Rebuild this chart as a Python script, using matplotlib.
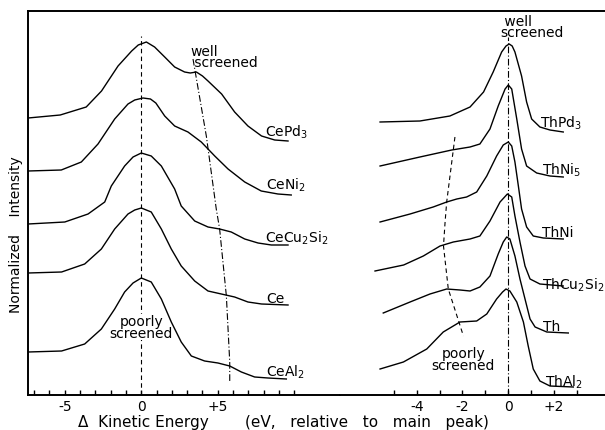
import matplotlib
matplotlib.use("Agg")
import matplotlib.pyplot as plt
from matplotlib.ticker import FixedLocator, FixedFormatter

plt.rcParams['font.family'] = ['DejaVu Sans']
plt.rcParams['mathtext.default'] = 'regular'

# ---------------- Ce compounds (left panel) ----------------
# energy in eV relative to main peak, normalized intensity (offset, a.u.)
cepd3_e = [-7.4, -5.3, -3.6, -2.6, -1.52, -0.63, -0.2, 0.33, 0.87, 1.53, 2.18, 2.83, 3.2, 3.6, 4.0, 4.36, 5.25, 6.1, 6.97, 7.86, 8.72, 9.59]
cepd3_i = [277, 280, 288, 304, 329, 344, 350, 353, 348, 338, 328, 323, 322, 323, 319, 314, 301, 283, 269, 259, 255, 254]

ceni2_e = [-7.4, -5.23, -3.92, -2.83, -1.74, -0.87, -0.43, 0.11, 0.6, 0.95, 1.53, 2.18, 3.05, 3.92, 4.8, 5.67, 6.76, 7.84, 8.93, 9.8]
ceni2_i = [224, 225, 233, 251, 276, 291, 295, 297, 296, 292, 279, 269, 263, 253, 239, 226, 213, 204, 201, 200]

cecu2si2_e = [-7.4, -5.0, -3.48, -2.39, -1.96, -1.09, -0.54, 0.0, 0.65, 1.31, 2.18, 2.61, 3.49, 4.36, 5.12, 5.88, 6.76, 7.63, 8.5, 9.59]
cecu2si2_i = [171, 173, 181, 193, 209, 229, 238, 242, 239, 229, 206, 189, 174, 168, 166, 163, 156, 152, 150, 150]

ce_e = [-7.4, -5.21, -3.7, -2.61, -1.74, -0.87, -0.43, 0.0, 0.65, 1.31, 1.96, 2.61, 3.49, 4.36, 5.23, 6.1, 6.97, 7.86, 9.59]
ce_i = [122, 123, 131, 146, 166, 181, 185, 187, 183, 166, 146, 129, 114, 104, 101, 98, 93, 91, 90]

ceal2_e = [-7.4, -5.21, -3.7, -2.61, -1.74, -1.09, -0.54, 0.0, 0.65, 1.31, 1.96, 2.61, 3.27, 4.14, 5.01, 5.78, 6.54, 7.41, 8.28, 9.48]
ceal2_i = [43, 44, 51, 66, 86, 103, 112, 117, 113, 96, 73, 53, 39, 34, 32, 29, 23, 18, 17, 16]

# "well screened" guide (Ce)
ce_well_e = [3.38, 4.25, 4.9, 5.12, 5.56, 5.78, 5.78]
ce_well_i = [336, 259, 186, 166, 99, 33, 14]

# ---------------- Th compounds (right panel) ----------------
thpd3_e = [-5.6, -3.86, -2.55, -1.67, -1.08, -0.66, -0.29, -0.1, 0.04, 0.17, 0.29, 0.58, 0.8, 1.02, 1.38, 1.82, 2.4]
thpd3_i = [273, 274, 279, 288, 303, 323, 343, 349, 351, 349, 343, 319, 293, 276, 268, 265, 263]

thni5_e = [-5.6, -3.86, -2.47, -1.67, -1.24, -0.8, -0.44, -0.14, 0.0, 0.15, 0.37, 0.58, 0.8, 1.24, 1.82, 2.4]
thni5_i = [229, 238, 245, 248, 251, 266, 289, 306, 310, 306, 276, 246, 229, 222, 219, 218]

thni_e = [-5.6, -4.29, -3.28, -2.69, -2.25, -1.82, -1.38, -0.94, -0.51, -0.22, 0.0, 0.15, 0.29, 0.44, 0.58, 0.8, 1.09, 1.53, 2.4]
thni_i = [173, 181, 188, 193, 196, 198, 203, 219, 239, 250, 253, 249, 233, 209, 186, 168, 159, 157, 156]

thcu2si2_e = [-5.82, -4.57, -3.71, -2.98, -2.4, -1.67, -1.24, -0.8, -0.36, -0.04, 0.15, 0.29, 0.51, 0.73, 0.95, 1.38, 2.4]
thcu2si2_i = [124, 130, 139, 149, 153, 156, 159, 174, 193, 201, 198, 179, 153, 129, 116, 111, 109]

th_e = [-5.46, -4.29, -3.42, -2.69, -2.11, -1.67, -1.24, -0.8, -0.44, -0.22, -0.07, 0.07, 0.29, 0.51, 0.73, 0.95, 1.17, 1.68, 2.62]
th_i = [82, 93, 101, 106, 105, 104, 108, 119, 141, 153, 158, 156, 139, 116, 96, 76, 68, 63, 62]

thal2_e = [-5.6, -4.58, -3.56, -2.84, -2.11, -1.38, -0.94, -0.51, -0.25, -0.1, 0.07, 0.37, 0.66, 0.87, 1.09, 1.38, 1.82, 2.84]
thal2_i = [26, 33, 46, 63, 73, 74, 81, 96, 103, 106, 104, 93, 73, 49, 26, 14, 9, 8]

# "poorly screened" guide (Th)
th_poor_e = [-2.33, -2.69, -2.76, -2.83, -2.62, -1.96]
th_poor_i = [258, 193, 173, 149, 106, 59]

left_ticks = [-5, 0, 5]
left_ticklabels = ['-5', '0', '+5']
left_minor = [-7, -6, -4, -3, -2, -1, 1, 2, 3, 4, 6, 7, 8, 9, 10]
right_ticks = [-4, -2, 0, 2]
right_ticklabels = ['-4', '-2', '0', '+2']
right_minor = [-5, -3, -1, 1, 3]

ce_names = ['CePd$_3$', 'CeNi$_2$', 'CeCu$_2$Si$_2$', 'Ce', 'CeAl$_2$']
th_names = ['ThPd$_3$', 'ThNi$_5$', 'ThNi', 'ThCu$_2$Si$_2$', 'Th', 'ThAl$_2$']

# ---------------- figure ----------------
fig = plt.figure(figsize=(6.05, 4.31), dpi=100)
axL = fig.add_axes([28 / 605, 35 / 431, 312 / 605, 384 / 431])
axR = fig.add_axes([340 / 605, 35 / 431, 265 / 605, 384 / 431])

axL.set_xlim(-7.405, 12.987)
axR.set_xlim(-7.349, 4.223)
for ax in (axL, axR):
    ax.set_ylim(0, 384)
    ax.set_yticks([])
    ax.spines['right'].set_visible(False)
    for s in ('top', 'bottom', 'left'):
        ax.spines[s].set_linewidth(1.4)
    ax.tick_params(axis='x', which='both', direction='in', length=3.5, width=1.0,
                   pad=3, labelsize=10, top=False)
axR.spines['left'].set_visible(False)

axL.xaxis.set_major_locator(FixedLocator(left_ticks))
axL.xaxis.set_major_formatter(FixedFormatter(left_ticklabels))
axL.xaxis.set_minor_locator(FixedLocator(left_minor))
axR.xaxis.set_major_locator(FixedLocator(right_ticks))
axR.xaxis.set_major_formatter(FixedFormatter(right_ticklabels))
axR.xaxis.set_minor_locator(FixedLocator(right_minor))

lw = 1.0
ce_curves = [(cepd3_e, cepd3_i), (ceni2_e, ceni2_i), (cecu2si2_e, cecu2si2_i),
             (ce_e, ce_i), (ceal2_e, ceal2_i)]
th_curves = [(thpd3_e, thpd3_i), (thni5_e, thni5_i), (thni_e, thni_i),
             (thcu2si2_e, thcu2si2_i), (th_e, th_i), (thal2_e, thal2_i)]
for e, i in ce_curves:
    axL.plot(e, i, color='black', lw=lw, solid_joinstyle='round', zorder=2)
for e, i in th_curves:
    axR.plot(e, i, color='black', lw=lw, solid_joinstyle='round', zorder=2)

# guide lines
axL.axvline(0, ymin=0, ymax=359 / 384, color='black', lw=0.8, ls=(0, (4, 3)), zorder=1)
axL.plot(ce_well_e, ce_well_i, color='black', lw=0.8, ls=(0, (6, 2, 1, 2)), zorder=1)
axR.axvline(0, ymin=0, ymax=358 / 384, color='black', lw=0.8, ls=(0, (6, 2, 1, 2)), zorder=1)
axR.plot(th_poor_e, th_poor_i, color='black', lw=0.8, ls=(0, (4, 3)), zorder=1)

# curve labels
ce_label_pos = [(8.08, 259), (8.15, 206), (8.08, 153), (8.15, 93), (8.15, 19)]
for name, (x, y) in zip(ce_names, ce_label_pos):
    axL.text(x, y, name, fontsize=10, ha='left', va='baseline')
th_label_pos = [(1.38, 268), (1.47, 221), (1.47, 159), (1.47, 106), (1.52, 65), (1.6, 9)]
for name, (x, y) in zip(th_names, th_label_pos):
    axR.text(x, y, name, fontsize=10, ha='left', va='baseline', clip_on=False)

# annotations
axL.text(3.2, 329, 'well\n screened', fontsize=10, ha='left', va='baseline',
         linespacing=0.72)
wb = dict(facecolor='white', edgecolor='none', pad=0.3)
axL.text(0.0, 58, 'poorly\nscreened', fontsize=10, ha='center', va='baseline',
         multialignment='center', linespacing=0.82, bbox=wb, zorder=1.5)

axR.text(-0.36, 359, ' well\nscreened', fontsize=10, ha='left', va='baseline',
         linespacing=0.72)
axR.text(-1.97, 26, 'poorly\nscreened', fontsize=10, ha='center', va='baseline',
         multialignment='center', linespacing=0.82)

# axis titles
fig.text(78 / 605, 4 / 431, 'Δ  Kinetic Energy', fontsize=11, ha='left', va='baseline')
fig.text(245 / 605, 4 / 431, '(eV,   relative   to   main   peak)', fontsize=11,
         ha='left', va='baseline')
fig.text(16 / 605, 196 / 431, 'Normalized    Intensity', fontsize=10, rotation=90,
         ha='center', va='center')

fig.savefig('out.png', dpi=100)
